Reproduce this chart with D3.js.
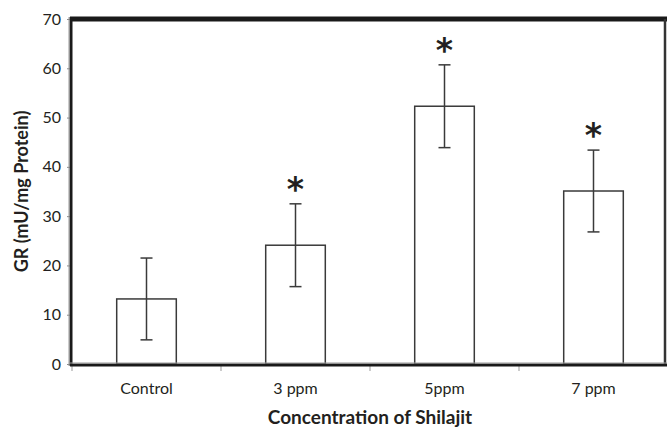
<!DOCTYPE html>
<html>
<head>
<meta charset="utf-8">
<script src="https://cdn.jsdelivr.net/npm/d3@7"></script>
<style>
  body { margin: 0; background: #fff; }
  text { font-family: Lato, "Open Sans", sans-serif; fill: #231f20; }
</style>
</head>
<body>
<div id="chart"></div>
<script>
// data
const categories = ["Control", "3 ppm", "5ppm", "7 ppm"];
const means = [13.2, 24.1, 52.3, 35.1];
const errors = [8.3, 8.4, 8.4, 8.3];
const significant = [false, true, true, true];
const yTicks = [0, 10, 20, 30, 40, 50, 60, 70];

const width = 667, height = 431;
const margin = {top: 19, right: -1, bottom: 67, left: 72};
const innerWidth = width - margin.left - margin.right;
const innerHeight = height - margin.top - margin.bottom;

const svg = d3.select("#chart")
    .append("svg")
    .attr("width", width)
    .attr("height", height);

const g = svg.append("g")
    .attr("transform", `translate(${margin.left},${margin.top})`);

const xScale = d3.scaleBand()
    .domain(categories)
    .range([0, innerWidth])
    .paddingInner(0.6)
    .paddingOuter(0.3);

const yScale = d3.scaleLinear()
    .domain([0, 70])
    .range([innerHeight, 0]);

// y axis
const yAxis = g.append("g")
    .call(d3.axisLeft(yScale).tickValues(yTicks).tickSize(5).tickPadding(6));
yAxis.select(".domain").remove();
yAxis.selectAll("line").attr("stroke", "#888");
yAxis.selectAll("text").style("font-size", "16px").attr("fill", "#231f20");

// x axis: ticks at band boundaries
const step = xScale.step();
const bounds = d3.range(categories.length + 1).map(i => i * step);
g.append("g").selectAll("line")
    .data(bounds)
    .join("line")
    .attr("x1", d => d).attr("x2", d => d)
    .attr("y1", innerHeight).attr("y2", innerHeight + 7)
    .attr("stroke", "#999");

g.append("g").selectAll("text")
    .data(categories)
    .join("text")
    .attr("x", d => xScale(d) + xScale.bandwidth() / 2)
    .attr("y", innerHeight + 30)
    .attr("text-anchor", "middle")
    .style("font-size", "16px")
    .text(d => d);

// bars
g.append("g").selectAll("rect")
    .data(categories)
    .join("rect")
    .attr("x", d => xScale(d))
    .attr("y", (d, i) => yScale(means[i]))
    .attr("width", xScale.bandwidth())
    .attr("height", (d, i) => innerHeight - yScale(means[i]))
    .attr("fill", "#fff")
    .attr("stroke", "#3a3a3a")
    .attr("stroke-width", 1.5);

// error bars
const eb = g.append("g").attr("stroke", "#3a3a3a").attr("stroke-width", 1.5);
categories.forEach((c, i) => {
    const cx = xScale(c) + xScale.bandwidth() / 2;
    const hi = yScale(means[i] + errors[i]);
    const lo = yScale(means[i] - errors[i]);
    eb.append("line").attr("x1", cx).attr("x2", cx).attr("y1", hi).attr("y2", lo);
    eb.append("line").attr("x1", cx - 6).attr("x2", cx + 6).attr("y1", hi).attr("y2", hi);
    eb.append("line").attr("x1", cx - 6).attr("x2", cx + 6).attr("y1", lo).attr("y2", lo);
    if (significant[i]) {
        g.append("text")
            .attr("x", cx)
            .attr("y", hi - 3)
            .attr("text-anchor", "middle")
            .style("font-size", "33px")
            .style("font-weight", "bold")
            .style("font-family", "'DejaVu Sans', sans-serif")
            .text("*");
    }
});

// frame
g.append("line").attr("x1", -2).attr("x2", innerWidth).attr("y1", 0).attr("y2", 0)
    .attr("stroke", "#1a1a1a").attr("stroke-width", 5);
g.append("line").attr("x1", -1).attr("x2", -1).attr("y1", -2).attr("y2", innerHeight + 2)
    .attr("stroke", "#1a1a1a").attr("stroke-width", 3);
g.append("line").attr("x1", -3).attr("x2", -3).attr("y1", -2).attr("y2", innerHeight + 2)
    .attr("stroke", "#999").attr("stroke-width", 1);
g.append("line").attr("x1", innerWidth - 3).attr("x2", innerWidth - 3).attr("y1", 0).attr("y2", innerHeight)
    .attr("stroke", "#333").attr("stroke-width", 2.5);
g.append("line").attr("x1", -2).attr("x2", innerWidth).attr("y1", innerHeight + 1).attr("y2", innerHeight + 1)
    .attr("stroke", "#1a1a1a").attr("stroke-width", 3);
g.append("line").attr("x1", -2).attr("x2", innerWidth).attr("y1", innerHeight - 1).attr("y2", innerHeight - 1)
    .attr("stroke", "#999").attr("stroke-width", 1);

// axis titles
svg.append("text")
    .attr("x", margin.left + innerWidth / 2)
    .attr("y", 424)
    .attr("text-anchor", "middle")
    .style("font-size", "19px")
    .style("font-weight", "bold")
    .text("Concentration of Shilajit");

svg.append("text")
    .attr("transform", "rotate(-90)")
    .attr("x", -(margin.top + innerHeight / 2))
    .attr("y", 28)
    .attr("text-anchor", "middle")
    .style("font-size", "18px")
    .style("font-weight", "bold")
    .text("GR (mU/mg Protein)");
</script>
</body>
</html>
